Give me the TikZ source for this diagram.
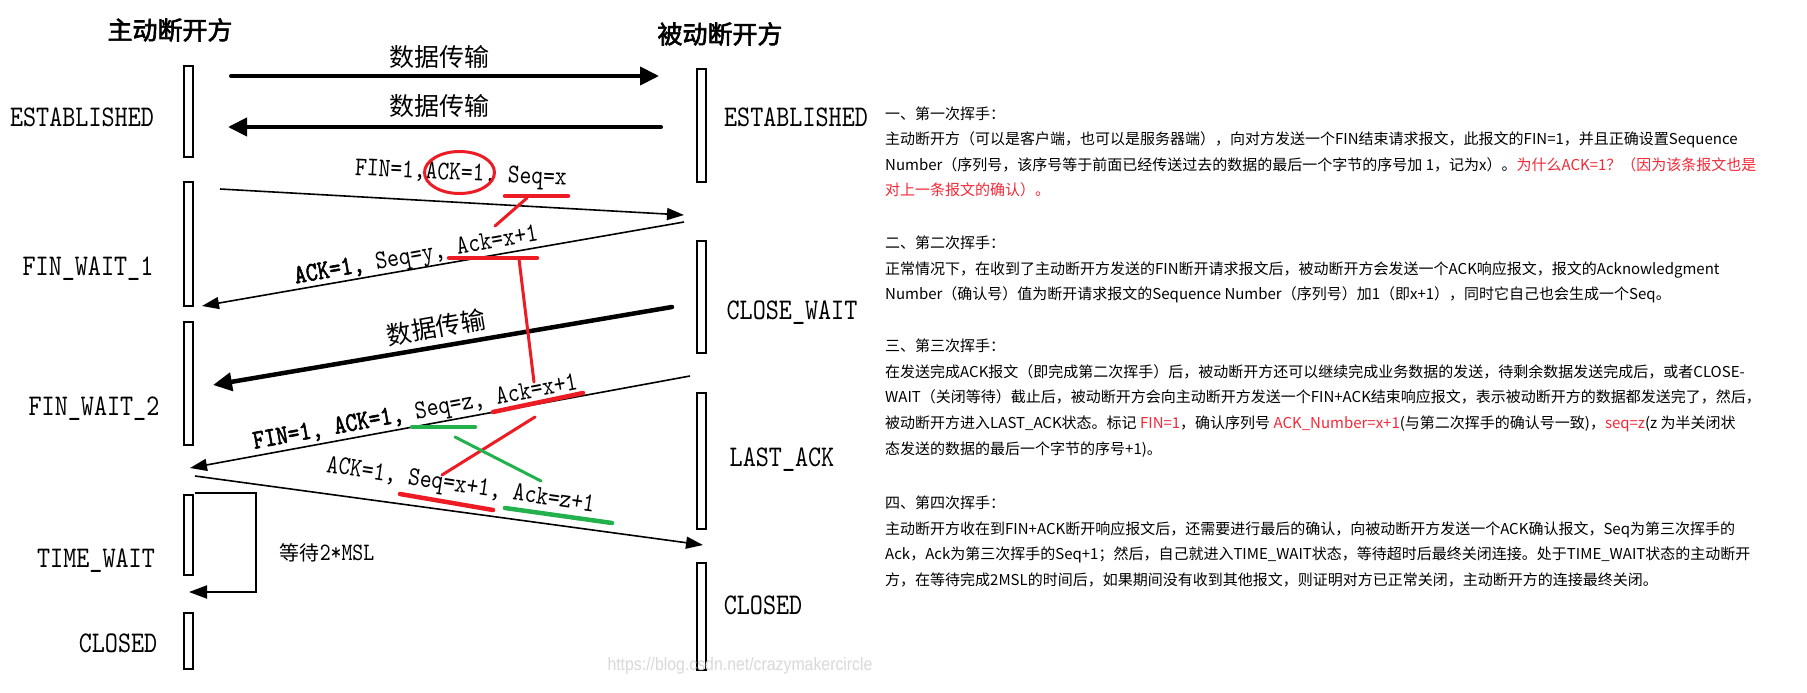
\documentclass[tikz,border=0pt]{standalone}
\usepackage{fontspec}
\usetikzlibrary{arrows.meta}
\newfontfamily\cjk{Noto Sans CJK SC}
\newfontfamily\cjkb[FakeBold=2.5]{Noto Sans CJK SC}
\newfontfamily\stfont[FakeStretch=0.83]{lmmono10-regular.otf}
\newfontfamily\stfontb[FakeStretch=0.83,FakeBold=2]{lmmono10-regular.otf}
\newfontfamily\wmfont[FakeStretch=0.88]{Liberation Sans}
\definecolor{pred}{RGB}{237,28,36}
\definecolor{pgreen}{RGB}{34,177,76}
\definecolor{tred}{RGB}{245,40,55}
\newcommand{\rt}[1]{\textcolor{tred}{#1}}
\tikzset{
  bar/.style={draw, line width=2.2pt, fill=white},
  state/.style={font=\stfont\fontsize{30}{30}\selectfont, inner sep=0pt, text height=18.3pt, text depth=0pt},
  lab/.style={font=\stfont\fontsize{27}{27}\selectfont, inner sep=0pt, text height=16.5pt, text depth=0pt},
  cn/.style={font=\cjk\fontsize{25}{25}\selectfont, inner sep=0pt, text height=20pt, text depth=1pt},
  ttl/.style={font=\cjkb\fontsize{25}{25}\selectfont, inner sep=0pt, text height=20pt, text depth=1pt},
  thinarrow/.style={line width=1.6pt, -{Triangle[length=17pt,width=12pt]}},
  thickarrow/.style={line width=4pt, line cap=round, -{Triangle[length=19pt,width=18pt]}},
  rline/.style={pred, line width=3pt, line cap=round},
  rul/.style={pred, line width=4.5pt, line cap=round},
  gline/.style={pgreen, line width=3pt, line cap=round},
  gul/.style={pgreen, line width=4.5pt, line cap=round},
  para/.style={font=\cjk\fontsize{15}{15}\selectfont, anchor=west, inner sep=0pt, text height=13pt, text depth=1.6pt},
}
\begin{document}
\begin{tikzpicture}[x=1pt,y=-1pt]
\useasboundingbox (0,0) rectangle (1807,693);
\fill[white] (0,0) rectangle (1807,693);

% titles
\node[ttl] (t1) at (170,30) {主动断开方};
\node[ttl] (t2) at (720,34) {被动断开方};

% lifeline bars
\draw[bar] (184,66) rectangle (193,157);
\draw[bar] (184,182) rectangle (193,306);
\draw[bar] (184,322) rectangle (193,445);
\draw[bar] (184,495) rectangle (193,575);
\draw[bar] (184,613) rectangle (193,669);
\draw[bar] (697,69) rectangle (706,182);
\draw[bar] (697,241) rectangle (706,353);
\draw[bar] (697,393) rectangle (706,529);
\draw[bar] (697,563) rectangle (706,670);

% states
\node[state] (s1) at (82,117) {ESTABLISHED};
\node[state] (s2) at (88,266) {FIN\_WAIT\_1};
\node[state] (s3) at (94,406) {FIN\_WAIT\_2};
\node[state] (s4) at (96,558) {TIME\_WAIT};
\node[state] (s5) at (118,643) {CLOSED};
\node[state] (r1) at (796,117) {ESTABLISHED};
\node[state] (r2) at (792,310) {CLOSE\_WAIT};
\node[state] (r3) at (782,457) {LAST\_ACK};
\node[state] (r4) at (763,605) {CLOSED};

% arrow end points
\coordinate (a1s) at (231,76);  \coordinate (a1e) at (659,76);
\coordinate (a2s) at (661,127); \coordinate (a2e) at (228,127);
\coordinate (a3s) at (220,189); \coordinate (a3e) at (684,215);
\coordinate (a4s) at (684,222); \coordinate (a4e) at (202,306);
\coordinate (a5s) at (672,307); \coordinate (a5e) at (213,385);
\coordinate (a6s) at (690,376); \coordinate (a6e) at (190,468);
\coordinate (a7s) at (195,476); \coordinate (a7e) at (703,545);
\coordinate (lpA) at (195,493); \coordinate (lpB) at (256,493);
\coordinate (lpC) at (256,592); \coordinate (lpD) at (189,592);

\draw[thickarrow] (a1s) -- (a1e);
\draw[thickarrow] (a2s) -- (a2e);
\draw[thinarrow] (a3s) -- (a3e);
\draw[thinarrow] (a4s) -- (a4e);
\draw[thickarrow, line width=4.5pt] (a5s) -- (a5e);
\draw[thinarrow] (a6s) -- (a6e);
\draw[thinarrow] (a7s) -- (a7e);
\draw[line width=2pt, -{Triangle[length=18pt,width=13pt]}] (lpA) -- (lpB) -- (lpC) -- (lpD);

% arrow labels
\node[cn] (d1) at (439,57) {数据传输};
\node[cn] (d2) at (439,106) {数据传输};
\node[cn, rotate=10] (d3) at (436,327) {数据传输};
\node[lab, rotate=-2.8] (l1) at (461,172) {FIN=1,ACK=1, Seq=x};
\node[lab, rotate=10] (l2) at (416,254) {{\stfontb ACK=1,} Seq=y, Ack=x+1};
\node[lab, rotate=10.4] (l4) at (415,411) {{\stfontb FIN=1, ACK=1,} Seq=z, Ack=x+1};
\node[lab, rotate=-8.5] (l5) at (461,484) {ACK=1, Seq=x+1, Ack=z+1};
\node[inner sep=0pt, text height=15pt, text depth=0pt] (w) at (327,553)
  {{\cjk\fontsize{20}{20}\selectfont 等待}{\stfont\fontsize{25}{25}\selectfont 2*MSL}};

% red / green annotations
\draw[pred, line width=3pt] (459.5,172.5) ellipse [x radius=35, y radius=21];
\draw[rul] (505,196) -- (568,196);
\draw[rline] (527,198) -- (495,226);
\draw[rul] (449,258) -- (537,258);
\draw[rline] (519,259) -- (534,382);
\draw[rul] (493,412) -- (583,393);
\draw[gul] (412,427) -- (475,427);
\draw[rline] (535,417) -- (442,475);
\draw[gline] (455,437) -- (541,481);
\draw[rul] (400,494) -- (493,510);
\draw[gul] (505,508) -- (612,523);

% watermark
\node[font=\wmfont\fontsize{18}{18}\selectfont, text=gray!30, inner sep=0pt] (wm) at (740,666) {https://blog.csdn.net/crazymakercircle};

% explanation text
\node[para] (p1) at (885,114) {一、第一次挥手：};
\node[para] (p2) at (885,139) {主动断开方（可以是客户端，也可以是服务器端），向对方发送一个FIN结束请求报文，此报文的FIN=1，并且正确设置Sequence};
\node[para] (p3) at (885,165) {Number（序列号，该序号等于前面已经传送过去的数据的最后一个字节的序号加 1，记为x）。\rt{为什么ACK=1？（因为该条报文也是}};
\node[para] (p4) at (885,190) {\rt{对上一条报文的确认）。}};
\node[para] (p5) at (885,243) {二、第二次挥手：};
\node[para] (p6) at (885,269) {正常情况下，在收到了主动断开方发送的FIN断开请求报文后，被动断开方会发送一个ACK响应报文，报文的Acknowledgment};
\node[para] (p7) at (885,294) {Number（确认号）值为断开请求报文的Sequence Number（序列号）加1（即x+1），同时它自己也会生成一个Seq。};
\node[para] (p8) at (885,346) {三、第三次挥手：};
\node[para] (p9) at (885,372) {在发送完成ACK报文（即完成第二次挥手）后，被动断开方还可以继续完成业务数据的发送，待剩余数据发送完成后，或者CLOSE-};
\node[para] (p10) at (885,397) {WAIT（关闭等待）截止后，被动断开方会向主动断开方发送一个FIN+ACK结束响应报文，表示被动断开方的数据都发送完了，然后，};
\node[para] (p11) at (885,423) {被动断开方进入LAST\_ACK状态。标记 \rt{FIN=1}，确认序列号 \rt{ACK\_Number=x+1}(与第二次挥手的确认号一致)，\rt{seq=z}(z 为半关闭状};
\node[para] (p12) at (885,449) {态发送的数据的最后一个字节的序号+1)。};
\node[para] (p13) at (885,503) {四、第四次挥手：};
\node[para] (p14) at (885,529) {主动断开方收在到FIN+ACK断开响应报文后，还需要进行最后的确认，向被动断开方发送一个ACK确认报文，Seq为第三次挥手的};
\node[para] (p15) at (885,554) {Ack，Ack为第三次挥手的Seq+1；然后，自己就进入TIME\_WAIT状态，等待超时后最终关闭连接。处于TIME\_WAIT状态的主动断开};
\node[para] (p16) at (885,580) {方，在等待完成2MSL的时间后，如果期间没有收到其他报文，则证明对方已正常关闭，主动断开方的连接最终关闭。};
\end{tikzpicture}
\end{document}
